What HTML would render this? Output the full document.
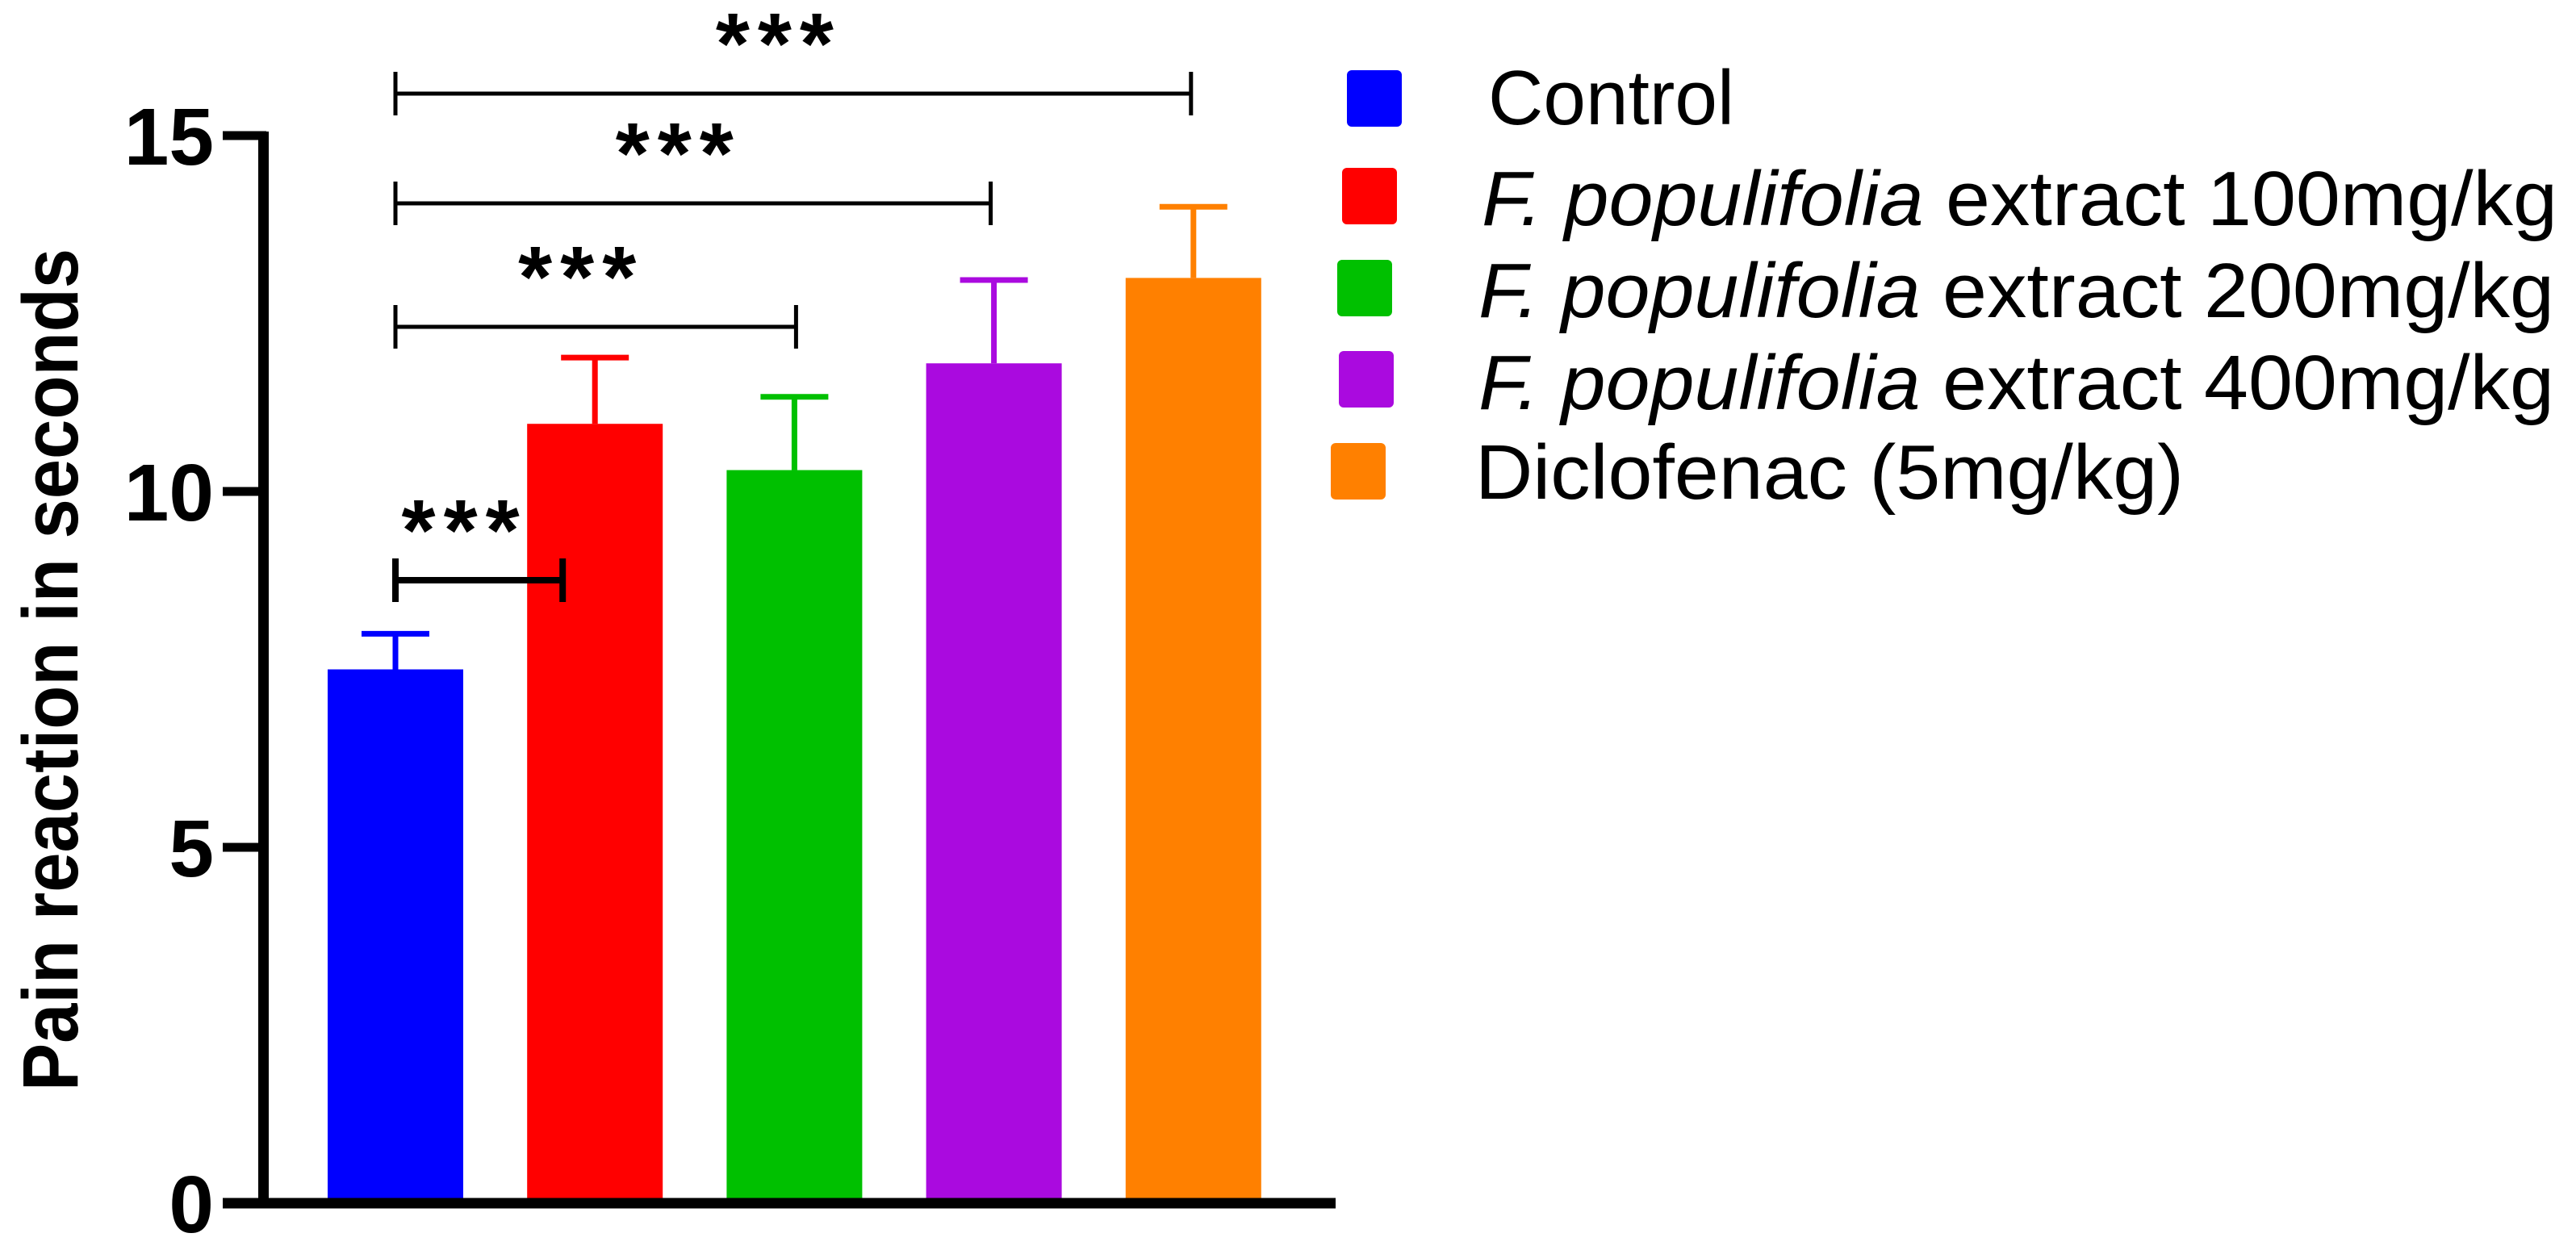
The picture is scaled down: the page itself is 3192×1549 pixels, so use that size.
<!DOCTYPE html>
<html><head><meta charset="utf-8"><style>
html,body{margin:0;padding:0;background:#fff;}
svg{display:block;font-family:"Liberation Sans",Arial,sans-serif;}
</style></head><body>
<svg id="chart" width="3192" height="1549" viewBox="0 0 3192 1549" xmlns="http://www.w3.org/2000/svg">
<g id="plot"></g>
<g id="legend"></g>
</svg>
<script>
const categories = ["Control","F. populifolia extract 100mg/kg","F. populifolia extract 200mg/kg","F. populifolia extract 400mg/kg","Diclofenac (5mg/kg)"];
const means = [7.5, 10.95, 10.3, 11.8, 13.0];
const errors = [0.5, 0.93, 1.03, 1.17, 1.0];
const colors = ["#0000ff","#ff0000","#00c000","#aa0adf","#ff8000"];
const yTicks = [0, 5, 10, 15];
const sigPairs = [[0,1],[0,2],[0,3],[0,4]];
const sigLabels = ["***","***","***","***"];

const NS = "http://www.w3.org/2000/svg";
const plot = document.getElementById('plot');
const legend = document.getElementById('legend');
function mk(tag, attrs, parent){ const e=document.createElementNS(NS,tag); for(const k in attrs) e.setAttribute(k,attrs[k]); parent.appendChild(e); return e; }
const y0 = 1491, yPerUnit = 88.2;
function yScale(v){ return y0 - v*yPerUnit; }
const barStart = 406, barStep = 247.2, barW = 168;
function xLeft(i){ return barStart + i*barStep; }
function xCenter(i){ return xLeft(i) + barW/2; }

// bars
means.forEach((m,i)=>{
  const r = mk('rect',{x:xLeft(i), y:yScale(m), width:barW, height:y0-yScale(m), fill:colors[i]}, plot);
  
  
  const top = yScale(m+errors[i]);
  const e = mk('path',{d:`M${xCenter(i)} ${yScale(m)} V${top} M${xCenter(i)-42} ${top} H${xCenter(i)+42}`, stroke:colors[i], 'stroke-width':7, fill:'none'}, plot);
  
  
});

// axes
const ya = mk('path',{d:`M326.5 ${yScale(15)-5} V${y0+6}`, stroke:'#000','stroke-width':13, fill:'none'}, plot);


const xa = mk('path',{d:`M276 ${y0} H1655`, stroke:'#000','stroke-width':13, fill:'none'}, plot);


yTicks.forEach(t=>{
  const tk = mk('path',{d:`M276 ${yScale(t)} H330`, stroke:'#000','stroke-width':11}, plot);
  
  
  const lb = mk('text',{x:265, y:yScale(t)+36, 'text-anchor':'end','font-size':100,'font-weight':'bold',fill:'#000'}, plot);
  lb.textContent = String(t);
  
  
});
const yt = mk('text',{x:0,y:0,transform:'translate(96,830) rotate(-90)','text-anchor':'middle','font-size':97,'font-weight':'bold',textLength:1044,lengthAdjust:'spacingAndGlyphs',fill:'#000'}, plot);
yt.textContent = "Pain reaction in seconds";



// significance brackets
const brY = [719, 405, 252, 116];
const brW = [8, 5, 5, 5];
const brEndAdj = [-40, 2, -4, -3];
sigPairs.forEach((p,k)=>{
  const x1 = xCenter(p[0]), x2 = xCenter(p[1]) + brEndAdj[k];
  const y = brY[k];
  const b = mk('path',{d:`M${x1} ${y-27} V${y+27} M${x1} ${y} H${x2} M${x2} ${y-27} V${y+27}`, stroke:'#000','stroke-width':brW[k], fill:'none'}, plot);
  
  
  const s = mk('text',{x:(x1+x2)/2 - 18, y:y-25, 'text-anchor':'middle','font-size':108,'font-weight':'bold','letter-spacing':10,fill:'#000'}, plot);
  s.textContent = sigLabels[k];
  
  
});

// legend
const legSwX = [1669,1663,1657,1659,1649];
const legSwY = [87,208,322,435,549];
const legTX = [1844,1836,1832,1832,1828];
const legTY = [154,279,393,507,618];
const legLen = [305,1333,1333,1333,878];
categories.forEach((c,i)=>{
  const sw = mk('rect',{x:legSwX[i], y:legSwY[i], width:68, height:70, rx:6, fill:colors[i]}, legend);
  
  
  const t = mk('text',{x:legTX[i], y:legTY[i], 'font-size':96, fill:'#000', textLength:legLen[i], lengthAdjust:'spacingAndGlyphs'}, legend);
  
  
  if (c.startsWith("F. populifolia")) {
    const it = mk('tspan',{'font-style':'italic'}, t);
    it.textContent = "F. populifolia";
    t.appendChild(document.createTextNode(c.slice("F. populifolia".length)));
  } else {
    t.textContent = c;
  }
});
</script>
</body></html>
